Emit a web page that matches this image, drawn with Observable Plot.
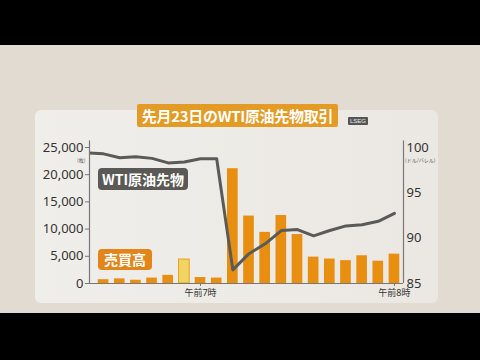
<!DOCTYPE html>
<html><head><meta charset="utf-8">
<script src="https://cdn.jsdelivr.net/npm/d3@7"></script>
<script src="https://cdn.jsdelivr.net/npm/@observablehq/plot@0.6"></script>
<style>
body{margin:0;width:480px;height:360px;background:#000;overflow:hidden;position:relative;font-family:"Noto Sans CJK JP","Noto Sans",sans-serif}
#bg{position:absolute;left:0;top:45px;width:480px;height:268px;background:#e1dbd2}
#panel{position:absolute;left:35px;top:110px;width:403px;height:193px;background:linear-gradient(90deg,#f0eeea,#ebe8e3);border-radius:6px}
#title{position:absolute;left:137px;top:104px;width:201px;height:23px;background:#e39b25;color:#fff;font-weight:700;font-size:15px;line-height:23px;text-align:center;border-radius:2px;letter-spacing:-0.3px}
#lseg{position:absolute;left:348px;top:117px;width:20px;height:8px;background:#555;color:#eee;font-family:"Liberation Sans",sans-serif;font-size:6px;line-height:8px;text-align:center;border-radius:1px}
.lab{position:absolute;color:#fff;font-weight:700;border-radius:4px;text-align:center}
#wti{left:98px;top:168px;width:90px;height:22px;background:#5a5955;font-size:14px;line-height:22px}
#vol{left:98px;top:249px;width:54px;height:21px;background:#e2861b;font-size:14px;line-height:21px}
.unit{position:absolute;font-size:5px;color:#555;line-height:6px}
#chart{position:absolute;left:0;top:0}
</style></head>
<body>
<div id="bg"></div>
<div id="panel"></div>
<div id="title">先月23日のWTI原油先物取引</div>
<div id="lseg">LSEG</div>
<div id="chart"></div>
<div class="lab" id="wti">WTI原油先物</div>
<div class="lab" id="vol">売買高</div>
<div class="unit" style="left:77px;top:157px">(枚)</div>
<div class="unit" style="left:405px;top:157px">(ドル/バレル)</div>
<script>
// 5-minute slots (index), 0 = 6:30 ... 18 = 8:00
const slots = d3.range(19);
const volume = [700, 850, 600, 1000, 1500, 4400, 1100, 1000, 21100, 12400, 9400, 12500, 9000, 4850, 4500, 4200, 5100, 4100, 5400];
const highlightSlot = 5;
const priceSlots = [-1, 0, 1, 2, 3, 4, 5, 6, 7, 8, 9, 10, 11, 12, 13, 14, 15, 16, 17, 18];
const price = [99.4, 99.3, 98.87, 98.97, 98.8, 98.3, 98.4, 98.75, 98.75, 86.5, 88.29, 89.38, 90.84, 90.95, 90.26, 90.84, 91.35, 91.49, 91.86, 92.73];
const volTicks = [0, 5000, 10000, 15000, 20000, 25000];
const priceTicks = [85, 90, 95, 100];
const timeTickSlots = [6, 18];
const timeTickLabels = ["午前7時", "午前8時"];

const pMin = 85, pMax = 100, vMax = 25000;
const toV = p => (p - pMin) / (pMax - pMin) * vMax;
const toP = v => pMin + v / vMax * (pMax - pMin);
const xDomain = [-0.87, 18.56];

const bars = slots.map(i => ({i, v: volume[i], hl: i === highlightSlot}));
const line = priceSlots.map((i, k) => ({i, p: price[k]}));

const chart = Plot.plot({
  width: 480, height: 360,
  marginLeft: 89, marginRight: 77, marginTop: 147, marginBottom: 77,
  style: {background: "transparent", color: "#333", fontFamily: "'Noto Sans','Noto Sans CJK JP',sans-serif", overflow: "visible"},
  x: {type: "linear", domain: xDomain, axis: null},
  y: {domain: [0, vMax], axis: null},
  marks: [
    Plot.rectY(bars, {x1: d => d.i - 0.33, x2: d => d.i + 0.33, y1: 0, y2: "v",
      fill: d => d.hl ? "#f2d464" : "#e88f12", stroke: d => d.hl ? "#e5a020" : "none", strokeWidth: 1}),
    Plot.line(line, {x: "i", y: d => toV(d.p), stroke: "#5a5a57", strokeWidth: 3, clip: true}),
    Plot.ruleX(xDomain, {y1: 0, y2: 26200, stroke: "#777", strokeWidth: 1.2}),
    Plot.ruleY([0], {stroke: "#777", strokeWidth: 1.2}),
    Plot.axisY({anchor: "left", label: null, ticks: volTicks, tickFormat: d3.format(","), tickSize: 4, tickPadding: 2, fontSize: 13, stroke: "#777"}),
    Plot.axisY({anchor: "right", label: null, ticks: priceTicks.map(toV), tickFormat: v => Math.round(toP(v)), tickSize: 0, tickPadding: 3, fontSize: 13}),
    Plot.axisX({label: null, ticks: timeTickSlots, tickFormat: i => timeTickLabels[timeTickSlots.indexOf(i)], tickSize: 3, tickPadding: 3, fontSize: 9, stroke: "#777"})
  ]
});
document.getElementById("chart").append(chart);
</script>
</body></html>
